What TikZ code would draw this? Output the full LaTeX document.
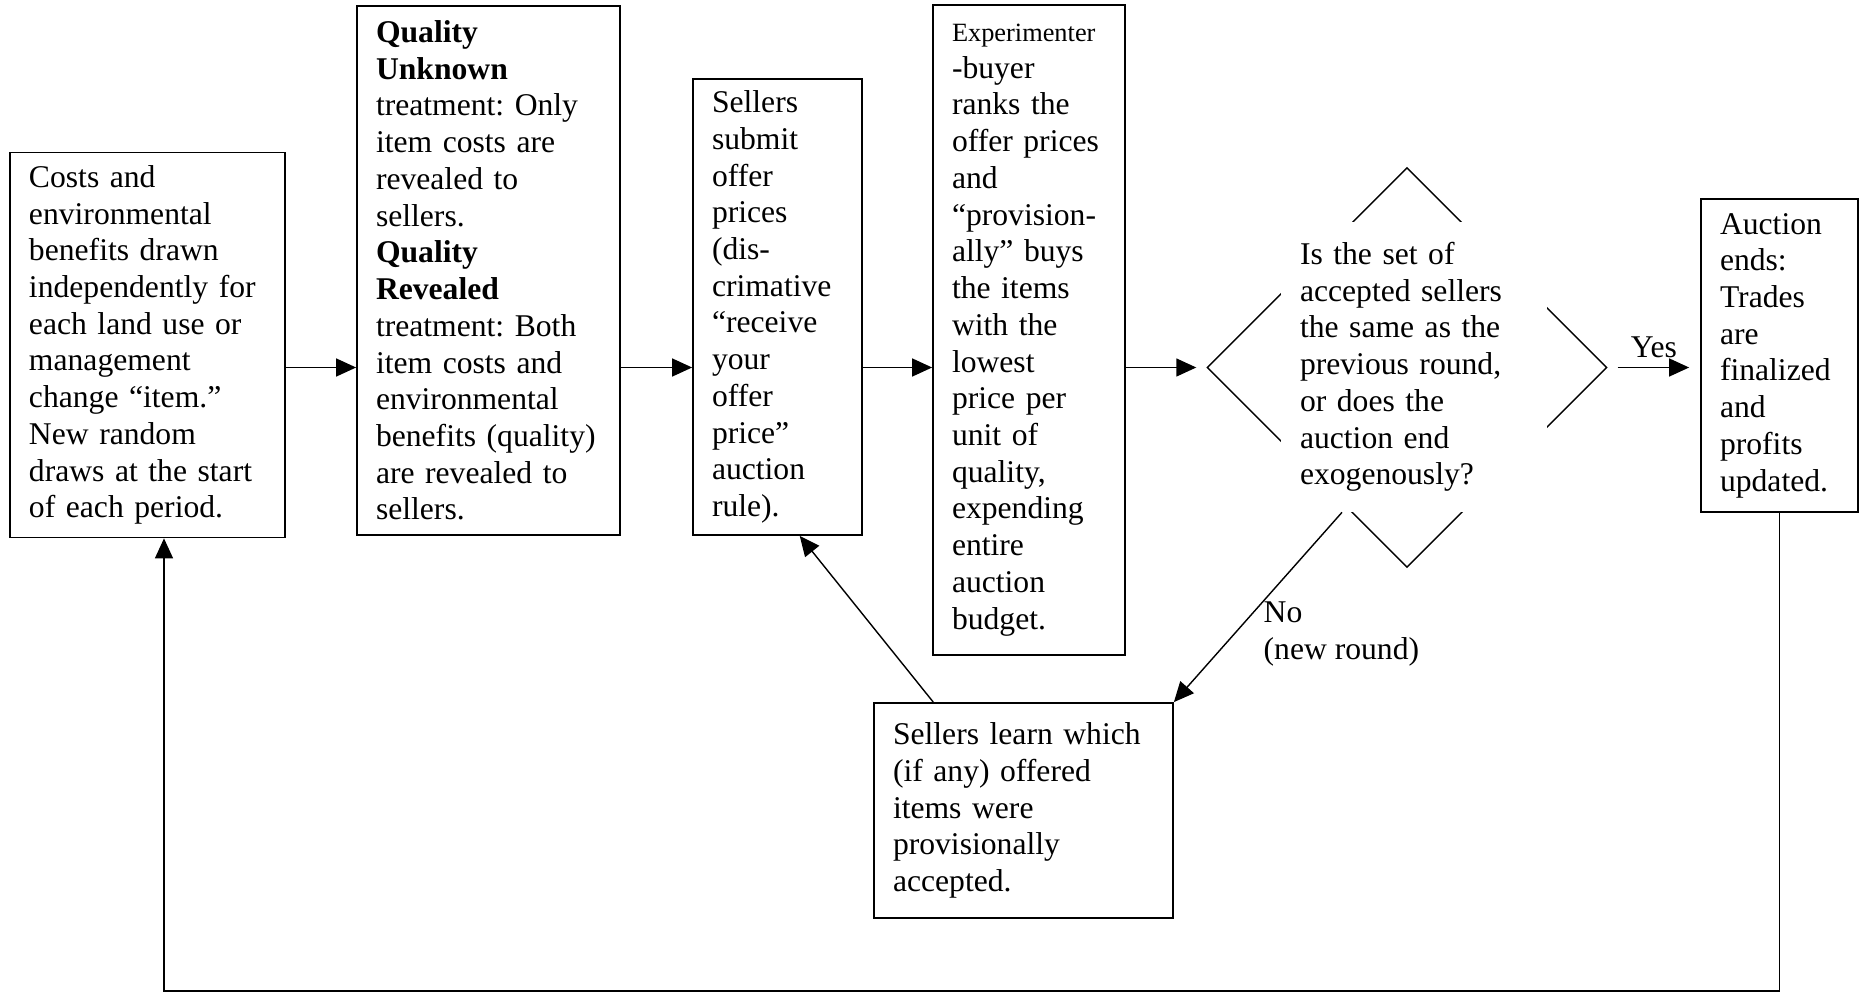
\documentclass[tikz,border=0pt]{standalone}
\usepackage{fontspec}
\setmainfont{Liberation Serif}
\usetikzlibrary{shapes.geometric, arrows.meta, calc}
\frenchspacing

\begin{document}
\begin{tikzpicture}[
    box/.style={draw, line width=1pt, align=left, inner xsep=0.38cm, inner ysep=0.1cm},
    arr/.style={-{Triangle[length=4mm,width=3.6mm]}, line width=0.8pt},
    font=\fontsize{18}{20.9}\selectfont]
\useasboundingbox (0,0) rectangle (37.28,-19.84);

\node[box, text width=4.74cm, minimum width=5.5cm, minimum height=7.7cm] (costs) at (2.95,-6.9)
    {Costs and\\ environmental\\ benefits drawn\\ independently for\\ each land use or\\ management\\ change “item.”\\ New random\\ draws at the start\\ of each period.};
\node[box, text width=4.5cm, minimum width=5.26cm, minimum height=10.58cm] (quality) at (9.77,-5.41)
    {\textbf{Quality}\\ \textbf{Unknown}\\ treatment: Only\\ item costs are\\ revealed to\\ sellers.\\ \textbf{Quality}\\ \textbf{Revealed}\\ treatment: Both\\ item costs and\\ environmental\\ benefits (quality)\\ are revealed to\\ sellers.};
\node[box, text width=2.62cm, minimum width=3.38cm, minimum height=9.12cm] (submit) at (15.55,-6.14)
    {Sellers\\ submit\\ offer\\ prices\\ (dis-\\ crimative\\ “receive\\ your\\ offer\\ price”\\ auction\\ rule).};
\node[box, text width=3.08cm, minimum width=3.84cm, minimum height=13cm] (rank) at (20.58,-6.6)
    {{\fontsize{15}{20.9}\selectfont Experimenter}\\ -buyer\\ ranks the\\ offer prices\\ and\\ “provision-\\ ally” buys\\ the items\\ with the\\ lowest\\ price per\\ unit of\\ quality,\\ expending\\ entire\\ auction\\ budget.};

\node[draw, diamond, line width=0.8pt, inner sep=0, minimum width=8cm, minimum height=8cm] (dec) at (28.14,-7.35) {};
\node[fill=white, align=left, text width=4.56cm, inner xsep=0.38cm, minimum height=5.8cm] (ask) at (28.28,-7.34)
    {Is the set of\\ accepted sellers\\ the same as the\\ previous round,\\ or does the\\ auction end\\ exogenously?};

\node[box, text width=2.38cm, minimum width=3.14cm, minimum height=6.26cm] (ends) at (35.59,-7.11)
    {Auction\\ ends:\\ Trades\\ are\\ finalized\\ and\\ profits\\ updated.};
\node[box, text width=5.22cm, minimum width=5.98cm, minimum height=4.3cm] (learn) at (20.47,-16.21)
    {Sellers learn which\\ (if any) offered\\ items were\\ provisionally\\ accepted.};

\foreach \a/\b in {costs/quality, quality/submit, submit/rank} {
    \draw[arr] (\a.east |- dec) -- (\b.west |- dec);
}
\draw[arr, shorten >=2mm] (rank.east |- dec) -- (dec.west);
\draw[arr, shorten <=2mm, shorten >=2.2mm] (dec.east) -- (ends.west |- dec)
    node[midway, above=1.8mm, inner sep=0] {Yes};
\draw[arr] ($(ask.south west)!0.23!(ask.south east)$) -- (learn.north east)
    node[pos=0.47, anchor=north west, inner sep=0, align=left] {No\\(new round)};
\draw[arr] ($(learn.north west)!0.2!(learn.north east)$) -- ($(submit.south west)!0.63!(submit.south east)$);

\coordinate (fb) at (3.28,-19.82);
\draw[arr] (ends.south) |- (fb) -- (costs.south -| fb);
\end{tikzpicture}
\end{document}
